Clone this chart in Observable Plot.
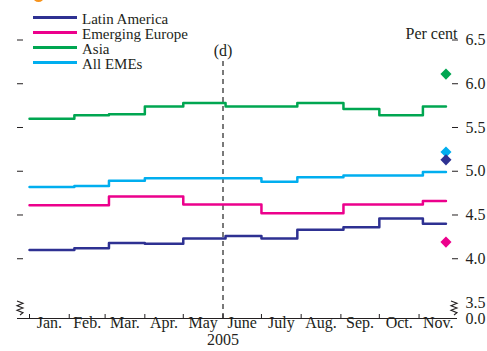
<!DOCTYPE html>
<html><head><meta charset="utf-8">
<script src="https://cdn.jsdelivr.net/npm/d3@7"></script>
<script src="https://cdn.jsdelivr.net/npm/@observablehq/plot@0.6"></script>
<style>
body{margin:0;background:#fff;}
#wrap{position:relative;width:487px;height:351px;overflow:hidden;font-family:"Liberation Serif",serif;color:#231f20;background:#fff;}
#legend{position:absolute;left:33px;top:12px;font-size:15px;line-height:15px;}
.row{display:flex;align-items:center;height:15px;white-space:nowrap;}
.sw{width:44px;height:3px;margin-right:5px;position:relative;top:-2px;}
#blob{position:absolute;left:33px;top:-9px;width:11px;height:11px;border-radius:50%;background:#f7941d;}
</style></head><body>
<div id="wrap"><div id="chart"></div><div id="legend"></div><div id="blob"></div></div>
<script>
// Series names and colours
const seriesNames = ["Latin America", "Emerging Europe", "Asia", "All EMEs"];
const seriesColors = ["#2e3192", "#ec008c", "#00a651", "#00aeef"];

// Dates at which the forecasts change (step-after), last entry = end of series
const stepDates = ["2005-01-01","2005-02-05","2005-03-04","2005-04-01","2005-05-01","2005-06-03",
                   "2005-07-01","2005-07-29","2005-09-03","2005-10-01","2005-11-04","2005-11-22"];

// Values for each segment (per cent)
const latinAmerica   = [4.10, 4.12, 4.18, 4.17, 4.23, 4.26, 4.23, 4.33, 4.36, 4.46, 4.40];
const emergingEurope = [4.61, 4.61, 4.71, 4.71, 4.62, 4.62, 4.52, 4.52, 4.62, 4.62, 4.66];
const asia           = [5.60, 5.64, 5.65, 5.74, 5.78, 5.74, 5.74, 5.78, 5.71, 5.64, 5.74];
const allEMEs        = [4.82, 4.83, 4.89, 4.92, 4.92, 4.92, 4.88, 4.93, 4.95, 4.95, 4.99];

// Diamond markers at end of series
const diamondDate = "2005-11-22";
const diamondValues = [5.13, 4.19, 6.11, 5.22]; // LatAm, Europe, Asia, All EMEs

// Axis
const monthLabels = ["Jan.","Feb.","Mar.","Apr.","May","June","July","Aug.","Sep.","Oct.","Nov."];
const yearLabel = "2005";
const yTicks = [3.5, 4.0, 4.5, 5.0, 5.5, 6.0, 6.5];
const yFloor = 3.317;     // broken axis: bottom of chart labelled 0.0
const yFloorLabel = "0.0";
const markerDate = "2005-06-01";
const markerLabel = "(d)";
const markerTop = 6.30;
const unitLabel = "Per cent";

const seriesValues = [latinAmerica, emergingEurope, asia, allEMEs];
const rows = [];
seriesValues.forEach((vals, s) => {
  stepDates.forEach((d, i) => {
    rows.push({series: seriesNames[s], date: new Date(d), value: vals[Math.min(i, vals.length - 1)]});
  });
});
const diamonds = seriesNames.map((n, i) => ({series: n, date: new Date(diamondDate), value: diamondValues[i]}));
const diamondOrder = [2, 1, 3, 0].map(i => diamonds[i]);

const monthStarts = d3.utcMonth.range(new Date("2005-01-01"), new Date("2005-12-01"));
const months = monthStarts.map((d, i) => ({
  start: d, mid: new Date((+d + +d3.utcMonth.offset(d, 1)) / 2), label: monthLabels[i]
}));

const ink = "#231f20";
const chart = Plot.plot({
  width: 487, height: 351,
  marginLeft: 17, marginRight: 30, marginTop: 39.5, marginBottom: 33,
  style: {fontFamily: "'Liberation Serif', serif", fontSize: "16px", color: ink, background: "transparent", overflow: "visible"},
  x: {type: "utc", domain: [new Date("2004-12-22T15:00Z"), new Date("2005-12-01")], label: null},
  y: {domain: [yFloor, 6.5], label: null},
  color: {domain: seriesNames, range: seriesColors},
  marks: [
    Plot.ruleX([new Date(markerDate)], {y1: yFloor, y2: markerTop, stroke: "#333", strokeWidth: 1.3, strokeDasharray: "5,4"}),
    Plot.text([markerLabel], {x: () => new Date(markerDate), frameAnchor: "top", dy: 5, fill: ink}),
    Plot.line(rows, {x: "date", y: "value", z: "series", stroke: "series", strokeWidth: 2.5, curve: "step-after"}),
    Plot.dot(diamondOrder, {x: "date", y: "value", fill: "series", symbol: "diamond2", r: 5, stroke: "none"}),
    Plot.ruleY([yFloor], {stroke: ink, strokeWidth: 1.2}),
    Plot.axisX(monthStarts, {tickSize: -4, tickFormat: () => "", stroke: ink, label: null}),
    Plot.text(months, {x: "mid", text: "label", frameAnchor: "bottom", dy: 9, fill: ink}),
    Plot.text([yearLabel], {x: () => new Date(markerDate), frameAnchor: "bottom", dy: 26, fill: ink}),
    Plot.axisY(yTicks.slice(1), {anchor: "left", tickSize: -6, tickFormat: () => "", stroke: ink, label: null}),
    Plot.axisY(yTicks.slice(1), {anchor: "right", tickSize: -6, tickFormat: () => "", stroke: ink, label: null}),
    Plot.axisY([yFloor, ...yTicks], {anchor: "right", tickSize: 0, tickPadding: 8, label: null,
      tickFormat: d => d === yFloor ? yFloorLabel : d.toFixed(1), fill: ink}),
    Plot.text([unitLabel], {frameAnchor: "top-right", textAnchor: "end", dy: -12, fill: ink})
  ]
});
document.getElementById("chart").appendChild(chart);

// Axis break squiggles drawn with the chart's own scales
const ys = chart.scale("y");
const yTop = ys.apply(3.5), yBot = ys.apply(yFloor);
const svg = d3.select(chart);
const squiggle = (x0) => {
  const h = yBot - yTop - 2;
  const s = h / 6;
  return `M${x0},${yTop - 1} l6,${s} l-6,${s} l6,${s} l-6,${s} l6,${s} l-3,${s}`;
};
[17, 451].forEach(x0 => {
  svg.append("path").attr("d", squiggle(x0)).attr("fill", "none").attr("stroke", ink).attr("stroke-width", 1.1);
});

// Legend
const legend = document.getElementById("legend");
seriesNames.forEach((n, i) => {
  const r = document.createElement("div");
  r.className = "row";
  r.innerHTML = `<span class="sw" style="background:${seriesColors[i]}"></span><span>${n}</span>`;
  legend.appendChild(r);
});
</script>
</body></html>
